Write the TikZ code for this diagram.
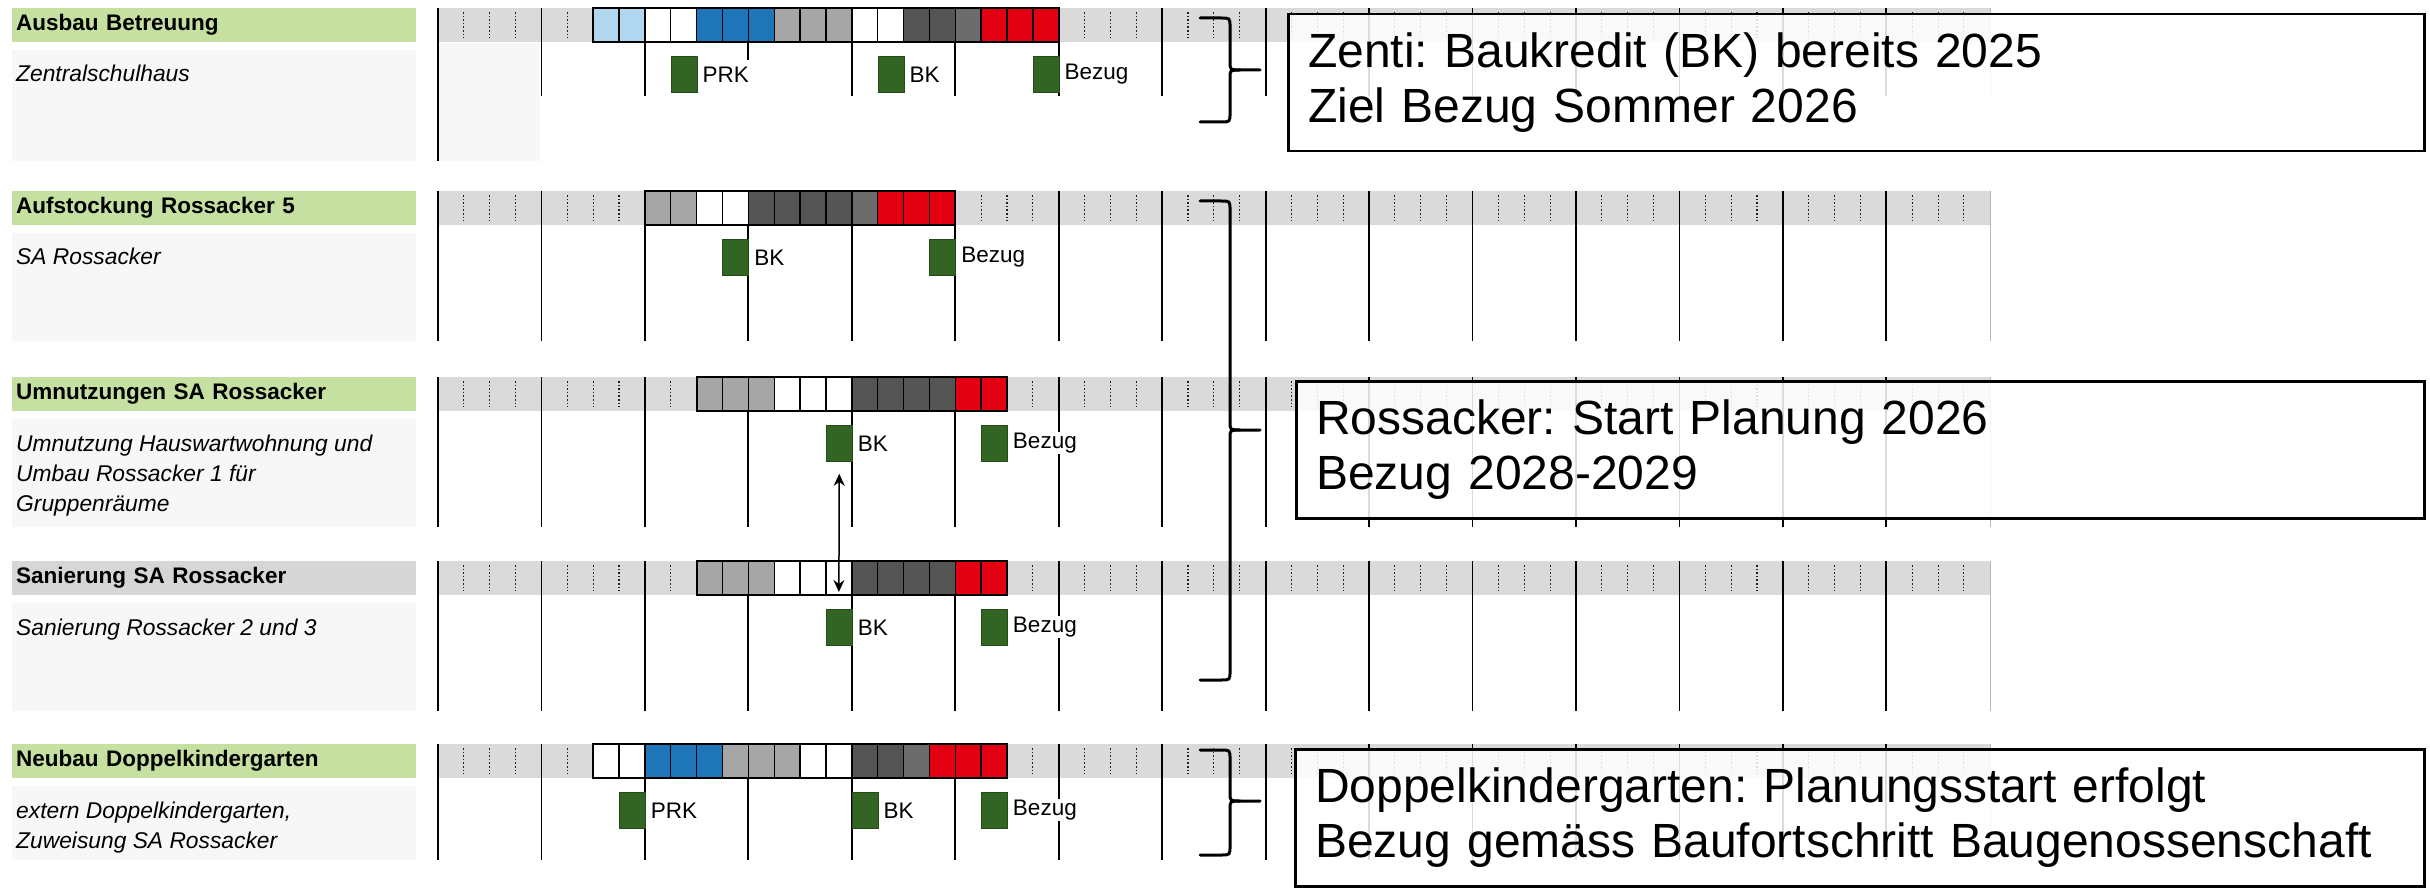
\documentclass[tikz,border=0pt]{standalone}
\usepackage{fontspec}
\setmainfont{Liberation Sans}
\usetikzlibrary{arrows.meta}
\frenchspacing
\definecolor{hdrgreen}{RGB}{197,224,160}
\definecolor{hdrgray}{RGB}{214,214,214}
\definecolor{bandgray}{RGB}{218,218,218}
\definecolor{cLB}{RGB}{176,214,240}
\definecolor{cB}{RGB}{30,118,185}
\definecolor{cG}{RGB}{166,166,166}
\definecolor{cD}{RGB}{85,85,85}
\definecolor{cDL}{RGB}{108,108,108}
\definecolor{cR}{RGB}{226,0,18}
\definecolor{cW}{RGB}{255,255,255}
\definecolor{msgreen}{RGB}{50,100,36}
\definecolor{panelgray}{RGB}{247,247,247}

\tikzset{
  yline/.style={line width=1.8pt, black},
  qline/.style={line width=1.1pt, gray!25!black, dash pattern=on 1.6pt off 2pt},
  endline/.style={line width=1pt, gray!55},
  cellbox/.style={draw=black, line width=1.4pt},
  barframe/.style={draw=black, line width=2.2pt},
  ms/.style={fill=msgreen, draw=msgreen!75!black, line width=0.8pt, minimum width=25.86pt, minimum height=36pt, inner sep=0pt, anchor=north west},
  mlabel/.style={fill=white, inner sep=1pt, anchor=west, font=\fontsize{22.5}{27}\selectfont},
  hdr/.style={anchor=north west, minimum width=404pt, minimum height=34pt, inner xsep=4pt, inner ysep=0pt, text width=396pt, align=left, font=\fontsize{22.5}{27}\selectfont\bfseries},
  desc/.style={anchor=base west, inner sep=0pt, font=\fontsize{22.8}{30}\selectfont\itshape},
  tbox/.style={draw=black, line width=2.5pt, fill=white, fill opacity=0.86, text opacity=1, anchor=north west, inner xsep=20pt, inner ysep=0pt, minimum height=137pt, align=left, font=\fontsize{48}{55}\selectfont},
  bracestyle/.style={line width=3pt, black, line cap=round},
  dblarrow/.style={{Stealth[length=12pt,width=11pt]}-{Stealth[length=12pt,width=11pt]}, line width=1.5pt}
}

% band, quarter marks and year lines of one row: #1 top, #2 line end, #3 list of year indices
\newcommand\ganttbg[3]{%
  \fill[bandgray] (438,#1) rectangle (1990,{#1+34});
  \foreach \q in {1,...,59}{%
    \pgfmathtruncatemacro\qmod{mod(\q,4)}%
    \ifnum\qmod>0
      \draw[qline] ({438+25.8625*\q},{#1+4}) -- ({438+25.8625*\q},{#1+30});
    \fi
  }%
  \foreach \k in {#3}{\draw[yline] ({438+103.45*\k},#1) -- ({438+103.45*\k},#2);}%
  \draw[endline] (1990,#1) -- (1990,#2);
}
% bar: #1 top, #2 first quarter, #3 last quarter (exclusive), #4 colours
\newcommand\ganttbar[4]{%
  \foreach \c [count=\i from 0] in {#4}{%
    \filldraw[cellbox, fill=\c] ({438+25.8625*(#2+\i)},#1) rectangle ({438+25.8625*(#2+\i+1)},{#1+34});
  }%
  \draw[barframe] ({438+25.8625*#2},#1) rectangle ({438+25.8625*#3},{#1+34});
}
% curly brace: #1 top, #2 tip, #3 bottom
\newcommand\sidebrace[3]{%
  \draw[bracestyle] (1200,#1) -- (1221,#1) .. controls (1230,#1) .. (1230,{#1+9}) -- (1230,{#2-8}) .. controls (1230,#2) .. (1240,#2) -- (1260,#2);
  \draw[bracestyle] (1200,#3) -- (1221,#3) .. controls (1230,#3) .. (1230,{#3-9}) -- (1230,{#2+8}) .. controls (1230,#2) .. (1240,#2);
}

\begin{document}
\begin{tikzpicture}[x=1pt,y=-1pt]
\useasboundingbox (0,0) rectangle (2430,893);
\fill[white] (0,0) rectangle (2430,893);

% ---------- label panels ----------
\fill[panelgray] (12,50) rectangle (416,161);
\fill[panelgray] (439,43) rectangle (540,161);
\fill[panelgray] (12,233) rectangle (416,341);
\fill[panelgray] (12,419) rectangle (416,527);
\fill[panelgray] (12,603) rectangle (416,711);
\fill[panelgray] (12,786) rectangle (416,860);

% ---------- row 1 ----------
\node[hdr, fill=hdrgreen] (h1) at (12,8) {Ausbau Betreuung};
\node[desc] (d1a) at (16,82) {Zentralschulhaus};
\ganttbg{8}{96}{1,2,4,5,6,7,8,9,10,11,12,13,14}
\draw[yline] (438,8) -- (438,161);
\draw[yline] ({438+103.45*3},8) -- ({438+103.45*3},60);
\ganttbar{8}{6}{24}{cLB,cLB,cW,cW,cB,cB,cB,cG,cG,cG,cW,cW,cD,cD,cDL,cR,cR,cR}
\node[ms] (r1prk) at ({438+25.8625*9},56) {};
\node[mlabel] (r1prkl) at ([xshift=4pt]r1prk.east) {PRK};
\node[ms] (r1bk) at ({438+25.8625*17},56) {};
\node[mlabel] (r1bkl) at ([xshift=4pt]r1bk.east) {BK};
\node[ms] (r1bez) at ({438+25.8625*23},56) {};
\node[mlabel] (r1bezl) at ([xshift=4pt]r1bez.east) {Bezug};

% ---------- row 2 ----------
\node[hdr, fill=hdrgreen] (h2) at (12,191) {Aufstockung Rossacker 5};
\node[desc] (d2a) at (16,265) {SA Rossacker};
\ganttbg{191}{341}{0,...,14}
\ganttbar{191}{8}{20}{cG,cG,cW,cW,cD,cD,cD,cD,cDL,cR,cR,cR}
\node[ms] (r2bk) at ({438+25.8625*11},239) {};
\node[mlabel] (r2bkl) at ([xshift=4pt]r2bk.east) {BK};
\node[ms] (r2bez) at ({438+25.8625*19},239) {};
\node[mlabel] (r2bezl) at ([xshift=4pt]r2bez.east) {Bezug};

% ---------- row 3 ----------
\node[hdr, fill=hdrgreen] (h3) at (12,377) {Umnutzungen SA Rossacker};
\node[desc] (d3a) at (16,451) {Umnutzung Hauswartwohnung und};
\node[desc] (d3b) at (16,481) {Umbau Rossacker 1 für};
\node[desc] (d3c) at (16,511) {Gruppenräume};
\ganttbg{377}{527}{0,...,14}
\ganttbar{377}{10}{22}{cG,cG,cG,cW,cW,cW,cD,cD,cD,cD,cR,cR}
\node[ms] (r3bk) at ({438+25.8625*15},425) {};
\node[mlabel] (r3bkl) at ([xshift=4pt]r3bk.east) {BK};
\node[ms] (r3bez) at ({438+25.8625*21},425) {};
\node[mlabel] (r3bezl) at ([xshift=4pt]r3bez.east) {Bezug};

% ---------- row 4 ----------
\node[hdr, fill=hdrgray] (h4) at (12,561) {Sanierung SA Rossacker};
\node[desc] (d4a) at (16,635) {Sanierung Rossacker 2 und 3};
\ganttbg{561}{711}{0,...,14}
\ganttbar{561}{10}{22}{cG,cG,cG,cW,cW,cW,cD,cD,cD,cD,cR,cR}
\node[ms] (r4bk) at ({438+25.8625*15},609) {};
\node[mlabel] (r4bkl) at ([xshift=4pt]r4bk.east) {BK};
\node[ms] (r4bez) at ({438+25.8625*21},609) {};
\node[mlabel] (r4bezl) at ([xshift=4pt]r4bez.east) {Bezug};

% ---------- row 5 ----------
\node[hdr, fill=hdrgreen] (h5) at (12,744) {Neubau Doppelkindergarten};
\node[desc] (d5a) at (16,818) {extern Doppelkindergarten,};
\node[desc] (d5b) at (16,848) {Zuweisung SA Rossacker};
\ganttbg{744}{860}{0,...,14}
\ganttbar{744}{6}{22}{cW,cW,cB,cB,cB,cG,cG,cG,cW,cW,cD,cD,cDL,cR,cR,cR}
\node[ms] (r5prk) at ({438+25.8625*7},792) {};
\node[mlabel] (r5prkl) at ([xshift=4pt]r5prk.east) {PRK};
\node[ms] (r5bk) at ({438+25.8625*16},792) {};
\node[mlabel] (r5bkl) at ([xshift=4pt]r5bk.east) {BK};
\node[ms] (r5bez) at ({438+25.8625*21},792) {};
\node[mlabel] (r5bezl) at ([xshift=4pt]r5bez.east) {Bezug};

% ---------- link between row 3 and row 4 ----------
\coordinate (r4tip) at ({438+25.8625*15.5},592);
\draw[dblarrow] ([yshift=-12pt]r3bk.south) -- (r4tip);

% ---------- braces ----------
\sidebrace{18}{70}{122}
\sidebrace{201}{430}{680}
\sidebrace{750}{801}{855}

% ---------- comment boxes ----------
\node[tbox, text width=1096pt] (box1) at (1287,13) {Zenti: Baukredit (BK) bereits 2025\\Ziel Bezug Sommer 2026};
\node[tbox, text width=1088pt] (box2) at (1295,380) {Rossacker: Start Planung 2026\\Bezug 2028-2029};
\node[tbox, text width=1089pt] (box3) at (1294,748) {Doppelkindergarten: Planungsstart erfolgt\\Bezug gemäss Baufortschritt Baugenossenschaft};
\end{tikzpicture}
\end{document}
